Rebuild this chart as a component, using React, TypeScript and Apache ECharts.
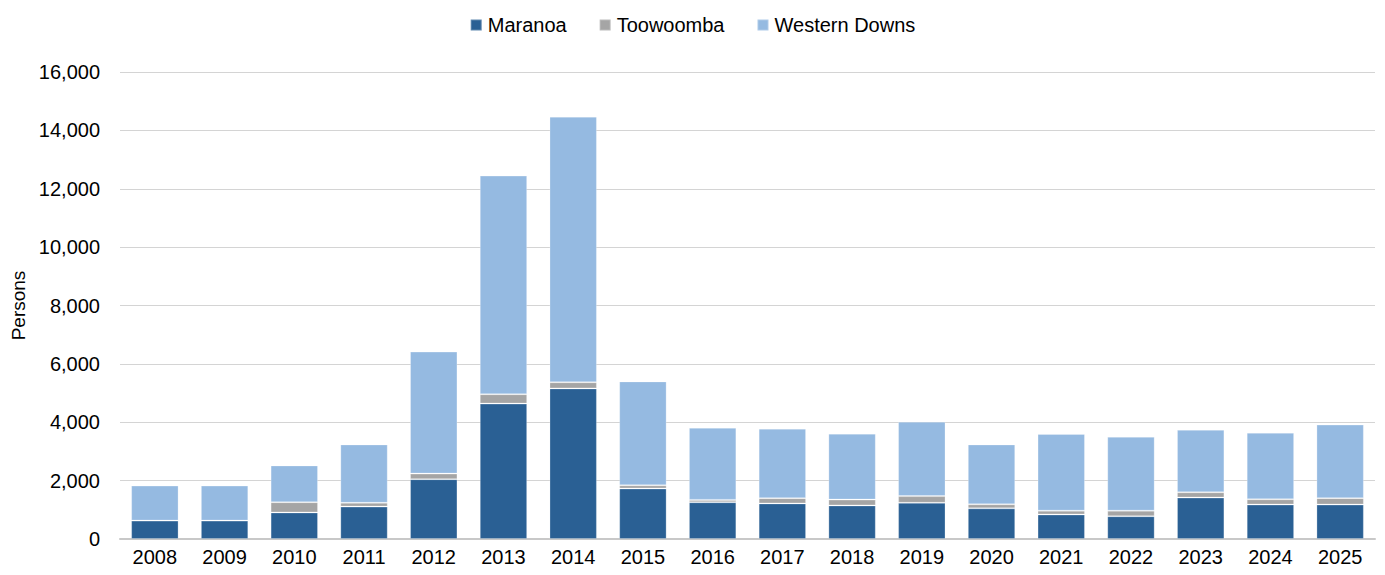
import React, { useEffect, useRef } from "react";
import * as echarts from "echarts";

const years = ["2008","2009","2010","2011","2012","2013","2014","2015","2016","2017","2018","2019","2020","2021","2022","2023","2024","2025"];
const maranoa = [630, 630, 910, 1110, 2050, 4640, 5160, 1730, 1260, 1220, 1150, 1240, 1050, 840, 780, 1420, 1180, 1180];
const toowoomba = [0, 0, 350, 130, 190, 320, 210, 110, 80, 180, 200, 230, 140, 130, 190, 180, 180, 220];
const westernDowns = [1200, 1200, 1260, 2000, 4180, 7490, 9100, 3560, 2470, 2380, 2260, 2550, 2050, 2630, 2530, 2140, 2280, 2520];
const yTicks = { min: 0, max: 16000, interval: 2000 };

const FONT = "Liberation Sans, Arial, sans-serif";

export default function App() {
  const ref = useRef<HTMLDivElement>(null);
  useEffect(() => {
    if (!ref.current) return;
    const chart = echarts.init(ref.current, undefined, { renderer: "svg" });
    const mk = (name: string, data: number[], color: string) => ({
      name,
      type: "bar",
      stack: "total",
      data,
      barCategoryGap: "32%",
      itemStyle: { color, borderColor: "rgba(255,255,255,0.25)", borderWidth: 1 },
    });
    chart.setOption({
      animation: false,
      textStyle: { fontFamily: FONT },
      legend: {
        top: 10,
        left: "center",
        itemWidth: 11,
        itemHeight: 11,
        itemGap: 32,
        icon: "rect",
        textStyle: { fontFamily: FONT, fontSize: 20, color: "#000", padding: [0, 0, 0, 1] },
        data: ["Maranoa", "Toowoomba", "Western Downs"],
      },
      grid: { left: 120, right: 10, top: 72, bottom: 36, containLabel: false },
      xAxis: {
        type: "category",
        data: years,
        axisLine: { lineStyle: { color: "#c8c8c8", width: 2 } },
        axisTick: { show: false },
        axisLabel: { fontFamily: FONT, fontSize: 20, color: "#000", margin: 8 },
      },
      yAxis: {
        type: "value",
        min: yTicks.min,
        max: yTicks.max,
        interval: yTicks.interval,
        name: "Persons",
        nameLocation: "middle",
        nameGap: 92,
        nameTextStyle: { fontFamily: FONT, fontSize: 19, color: "#000" },
        axisLine: { show: false },
        axisTick: { show: false },
        splitLine: { lineStyle: { color: "#d4d4d4", width: 1 } },
        axisLabel: {
          fontFamily: FONT,
          fontSize: 20,
          color: "#000",
          margin: 20,
          formatter: (v: number) => v.toLocaleString("en-US"),
        },
      },
      series: [
        mk("Maranoa", maranoa, "#2a6094"),
        mk("Toowoomba", toowoomba, "#a5a5a5"),
        mk("Western Downs", westernDowns, "#95bae1"),
      ],
    });
    return () => chart.dispose();
  }, []);
  return <div ref={ref} style={{ position: "absolute", left: 0, top: 0, width: 1385, height: 575 }} />;
}
